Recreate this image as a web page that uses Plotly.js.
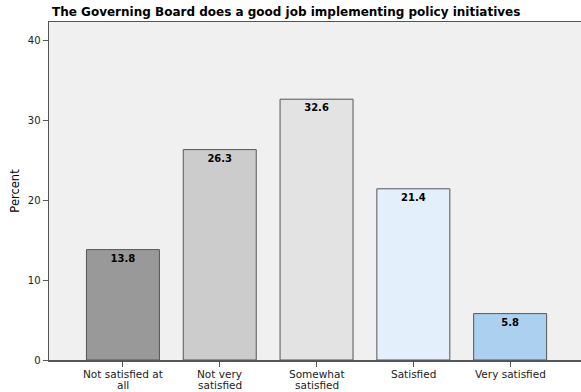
<!DOCTYPE html>
<html>
<head>
<meta charset="utf-8">
<script src="https://cdn.plot.ly/plotly-3.0.1.min.js"></script>
<style>html,body{margin:0;padding:0;background:#fff;}#chart{width:581px;height:392px;}</style>
</head>
<body>
<div id="chart"></div>
<script>
const categories = ["Not satisfied at<br>all", "Not very<br>satisfied", "Somewhat<br>satisfied", "Satisfied", "Very satisfied"];
const percents = [13.8, 26.3, 32.6, 21.4, 5.8];
const barColors = ["#999999", "#cccccc", "#e3e3e3", "#e3effb", "#abd0f0"];
const yTicks = [0, 10, 20, 30, 40];

const trace = {
  type: "bar",
  x: categories,
  y: percents,
  width: 0.754,
  marker: {color: barColors, line: {color: "#555555", width: 1}},
  text: percents.map(v => v.toFixed(1)),
  textposition: "inside",
  insidetextanchor: "end",
  textangle: 0,
  constraintext: "none",
  textfont: {family: "DejaVu Sans", size: 10, color: "#000000", weight: "bold"},
  hoverinfo: "none"
};

// category labels drawn as tightly spaced lines under each tick
const annotations = [];
categories.forEach(cat => {
  cat.split("<br>").forEach((line, i) => {
    annotations.push({
      x: cat, xref: "x", y: 0, yref: "paper",
      text: line, showarrow: false,
      xanchor: "center", yanchor: "middle",
      yshift: -13.5 - i * 11,
      borderpad: 0,
      font: {family: "DejaVu Sans", size: 10.5, color: "#222222"}
    });
  });
});

const layout = {
  width: 581, height: 392,
  margin: {l: 49, r: 0, t: 22, b: 32, pad: 0},
  paper_bgcolor: "#ffffff",
  plot_bgcolor: "#f0f0f0",
  showlegend: false,
  annotations: annotations,
  title: {
    text: "<b>The Governing Board does a good job implementing policy initiatives</b>",
    font: {family: "DejaVu Sans", size: 12, color: "#000000"},
    x: 52/581, xanchor: "left", xref: "container",
    y: 1 - 12/392, yanchor: "middle", yref: "container"
  },
  xaxis: {
    type: "category",
    range: [-0.764, 4.732],
    showgrid: false, zeroline: false,
    showline: true, linecolor: "#555555", linewidth: 1.5, mirror: true,
    ticks: "outside", ticklen: 5, tickcolor: "#555555", tickwidth: 1,
    showticklabels: false,
    fixedrange: true
  },
  yaxis: {
    range: [0, 42.25],
    tickvals: yTicks,
    ticktext: yTicks.map(String),
    showgrid: false, zeroline: false,
    showline: true, linecolor: "#555555", linewidth: 1.5,
    ticks: "outside", ticklen: 5, tickcolor: "#555555", tickwidth: 1,
    tickfont: {family: "DejaVu Sans", size: 10, color: "#222222"},
    title: {text: "Percent", font: {family: "DejaVu Sans", size: 11.5, color: "#000000"}, standoff: 5},
    fixedrange: true
  }
};

Plotly.newPlot("chart", [trace], layout, {displayModeBar: false, staticPlot: true});
</script>
</body>
</html>
